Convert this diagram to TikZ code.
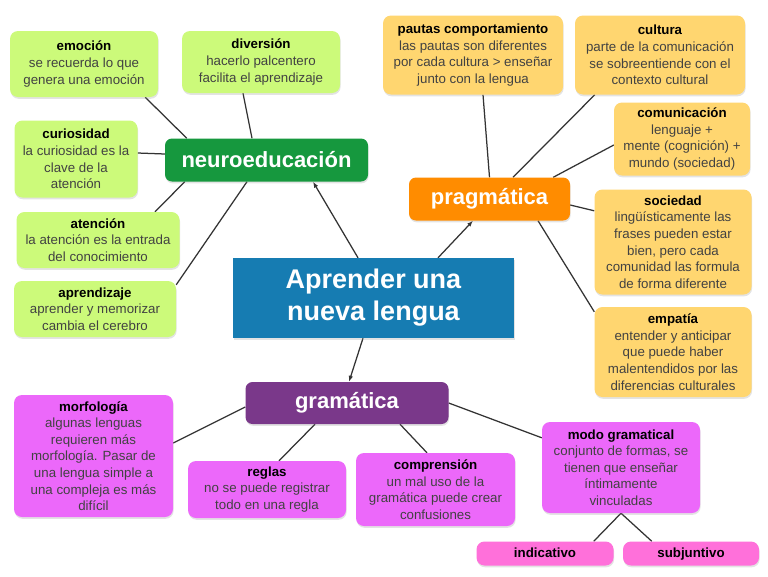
\documentclass[tikz,border=0pt]{standalone}
\usepackage{fontspec}
\setmainfont{Liberation Sans}
\usetikzlibrary{arrows.meta,shadows}

\definecolor{leafgreen}{RGB}{204,250,122}
\definecolor{leafyellow}{RGB}{255,214,112}
\definecolor{leafpink}{RGB}{236,104,250}
\definecolor{leafrose}{RGB}{255,112,218}
\definecolor{hubgreen}{RGB}{22,152,62}
\definecolor{huborange}{RGB}{255,140,0}
\definecolor{hubpurple}{RGB}{122,56,138}
\definecolor{rootblue}{RGB}{22,124,178}
\definecolor{bodygray}{RGB}{66,66,66}

\newcommand{\boxtitle}[1]{\textcolor{black}{\textbf{#1}}}

\pgfdeclarelayer{background}
\pgfsetlayers{background,main}

\begin{document}
\begin{tikzpicture}[x=1pt,y=-1pt,
  size/.style 2 args={minimum width=#1pt,minimum height=#2pt},
  leaf/.style={rounded corners=8pt,align=center,inner sep=2pt,text=bodygray,
    font=\fontsize{13.3}{16.6}\selectfont,
    drop shadow={shadow xshift=0.6pt,shadow yshift=-1.8pt,opacity=0.22}},
  mood/.style={leaf,fill=leafrose,text height=10pt,text depth=3pt},
  hub/.style={rounded corners=7pt,align=center,inner sep=2pt,text=white,
    font=\fontsize{22}{26}\selectfont\bfseries,
    drop shadow={shadow xshift=0.6pt,shadow yshift=-1.8pt,opacity=0.22}},
  link/.style={draw=black!80,line width=1.25pt},
  tip/.style={link,-{Latex[length=6pt,width=4.5pt]}}]

\useasboundingbox (0,0) rectangle (768,576);

% centre
\node[fill=rootblue,text=white,align=center,size={281}{80},
  font=\fontsize{27}{32}\selectfont\bfseries,
  drop shadow={shadow xshift=0.6pt,shadow yshift=-1.8pt,opacity=0.22}]
  (root) at (373.5,298) {Aprender una\\nueva lengua};

% hubs
\node[hub,fill=hubgreen,size={203}{43}] (neuro) at (266.5,160) {neuroeducación};
\node[hub,fill=huborange,size={161}{43}] (prag) at (489.5,199) {pragmática};
\node[hub,fill=hubpurple,size={203}{42}] (gram) at (347,403) {gramática};

% neuroeducacion
\node[leaf,fill=leafgreen,size={148}{66}] (emocion) at (84,64)
  {\boxtitle{emoción}\\se recuerda lo que\\genera una emoción};
\node[leaf,fill=leafgreen,size={158}{62}] (diversion) at (261,62)
  {\boxtitle{diversión}\\hacerlo palcentero\\facilita el aprendizaje};
\node[leaf,fill=leafgreen,size={123}{77}] (curiosidad) at (76,159)
  {\boxtitle{curiosidad}\\la curiosidad es la\\clave de la\\atención};
\node[leaf,fill=leafgreen,size={163}{56}] (atencion) at (98,240)
  {\boxtitle{atención}\\la atención es la entrada\\del conocimiento};
\node[leaf,fill=leafgreen,size={162}{56}] (aprendizaje) at (95,309)
  {\boxtitle{aprendizaje}\\aprender y memorizar\\cambia el cerebro};

% pragmatica
\node[leaf,fill=leafyellow,size={180}{79}] (pautas) at (473,55)
  {\boxtitle{pautas comportamiento}\\las pautas son diferentes\\por cada cultura > enseñar\\junto con la lengua};
\node[leaf,fill=leafyellow,size={170}{79}] (cultura) at (660,55)
  {\boxtitle{cultura}\\parte de la comunicación\\se sobreentiende con el\\contexto cultural};
\node[leaf,fill=leafyellow,size={136}{73}] (comunicacion) at (682,139)
  {\boxtitle{comunicación}\\lenguaje +\\mente (cognición) +\\mundo (sociedad)};
\node[leaf,fill=leafyellow,size={157}{105}] (sociedad) at (673,242)
  {\boxtitle{sociedad}\\lingüísticamente las\\frases pueden estar\\bien, pero cada\\comunidad las formula\\de forma diferente};
\node[leaf,fill=leafyellow,size={157}{90}] (empatia) at (673,352)
  {\boxtitle{empatía}\\entender y anticipar\\que puede haber\\malentendidos por las\\diferencias culturales};

% gramatica
\node[leaf,fill=leafpink,size={159}{122}] (morfologia) at (93.5,456)
  {\boxtitle{morfología}\\algunas lenguas\\requieren más\\morfología. Pasar de\\una lengua simple a\\una compleja es más\\difícil};
\node[leaf,fill=leafpink,size={158}{57}] (reglas) at (267,489.5)
  {\boxtitle{reglas}\\no se puede registrar\\todo en una regla};
\node[leaf,fill=leafpink,size={159}{73}] (comprension) at (435.5,489.5)
  {\boxtitle{comprensión}\\un mal uso de la\\gramática puede crear\\confusiones};
\node[leaf,fill=leafpink,size={158}{91}] (modo) at (621,467.5)
  {\boxtitle{modo gramatical}\\conjunto de formas, se\\tienen que enseñar\\íntimamente\\vinculadas};
\node[mood,size={137}{24}] (indicativo) at (545,553.5) {\boxtitle{indicativo}};
\node[mood,size={136}{24}] (subjuntivo) at (691,553.5) {\boxtitle{subjuntivo}};

\begin{pgfonlayer}{background}
% white page first, then the connectors
\fill[white] (0,0) rectangle (768,576);

% arrows out of the centre
\draw[tip] ([xshift=-15.5pt]root.north) -- ([xshift=46.5pt]neuro.south);
\draw[tip] ([xshift=64.5pt]root.north) -- ([xshift=-16.5pt]prag.south);
\draw[tip] ([xshift=-10.5pt]root.south) -- ([xshift=2pt]gram.north);

\draw[link] ([xshift=-13pt]emocion.south east) -- ([xshift=22pt]neuro.north west);
\draw[link] ([xshift=-18pt]diversion.south) -- ([xshift=-14.5pt]neuro.north);
\draw[link] ([yshift=6pt]curiosidad.east) -- ([yshift=6pt]neuro.west);
\draw[link] ([xshift=57pt]atencion.north) -- ([xshift=20pt]neuro.south west);
\draw[link] ([yshift=-4pt]aprendizaje.north east) -- ([xshift=-19.5pt]neuro.south);

\draw[link] ([xshift=10pt]pautas.south) -- (prag.north);
\draw[link] ([xshift=20pt]cultura.south west) -- ([xshift=23.5pt]prag.north);
\draw[link] ([yshift=-6pt]comunicacion.west) -- ([xshift=-17pt]prag.north east);
\draw[link] ([yshift=-6pt]prag.east) -- ([yshift=-21.5pt]sociedad.north west);
\draw[link] ([xshift=48.5pt]prag.south) -- ([yshift=-5pt]empatia.north west);

\draw[link] ([yshift=13pt]morfologia.east) -- ([yshift=-4pt]gram.west);
\draw[link] ([xshift=12pt]reglas.north) -- ([xshift=-32pt]gram.south);
\draw[link] ([xshift=-8.5pt]comprension.north) -- ([xshift=53pt]gram.south);
\draw[link] ([yshift=-16pt]modo.north west) -- (gram.east);
\draw[link] (modo.south) -- ([xshift=-20pt]indicativo.north east);
\draw[link] (modo.south) -- ([xshift=29pt]subjuntivo.north west);
\end{pgfonlayer}
\end{tikzpicture}
\end{document}
